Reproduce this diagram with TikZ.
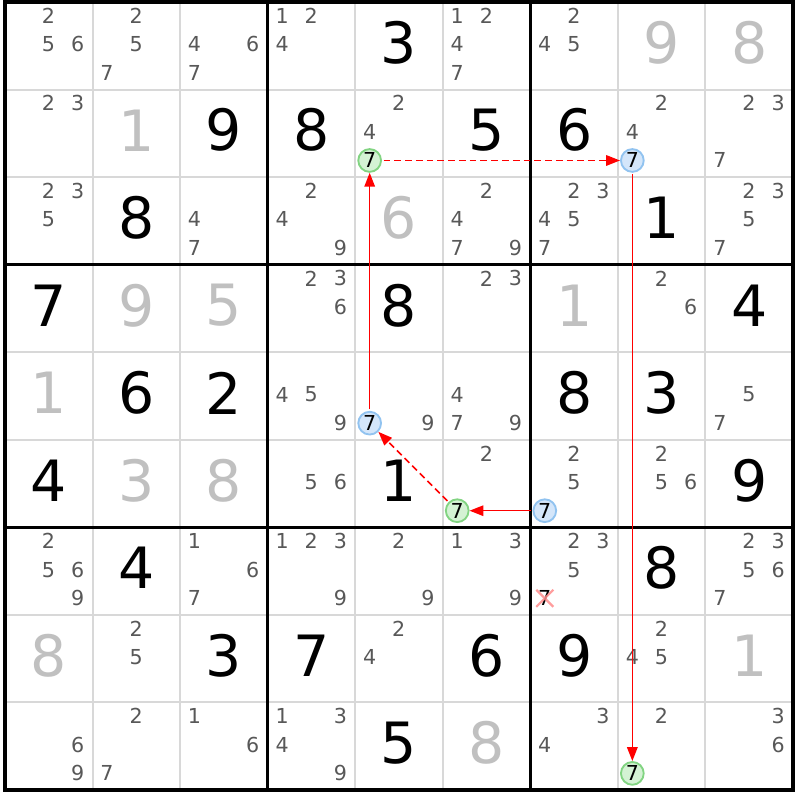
\documentclass[tikz,border=0pt]{standalone}
\usepackage{fontspec}
\setmainfont{DejaVu Sans}
\usetikzlibrary{arrows.meta,shapes.misc}
\definecolor{candgray}{RGB}{88,88,88}
\definecolor{solvedgray}{RGB}{192,192,192}
\definecolor{thingray}{RGB}{216,216,216}
\definecolor{onfill}{RGB}{212,242,212}
\definecolor{ondraw}{RGB}{130,212,130}
\definecolor{offfill}{RGB}{212,230,250}
\definecolor{offdraw}{RGB}{145,195,240}
\tikzstyle{given}=[inner sep=0,font=\fontsize{18.5}{20}\selectfont,text=black]
\tikzstyle{solved}=[given,text=solvedgray]
\tikzstyle{cand}=[inner sep=0,font=\fontsize{6.7}{8}\selectfont,text=candgray]
\tikzstyle{oncand}=[cand,text=black,shape=circle,minimum size=2.6mm,draw=ondraw,fill=onfill,line width=0.6pt]
\tikzstyle{offcand}=[oncand,draw=offdraw,fill=offfill]
\tikzstyle{elim}=[shape=cross out,draw=red!45,line width=0.7pt,minimum size=1.7mm,inner sep=0,opacity=0.85]
\tikzstyle{link}=[red,line width=0.5pt,-{Triangle[length=4.5pt,width=3.4pt]},shorten <=0.5pt]
\tikzstyle{weak}=[link,dash pattern=on 2.2pt off 1.3pt]

\begin{document}
\begin{tikzpicture}
\useasboundingbox (-0.057,-0.114) rectangle (9.057,9.023);
\fill[white] (-0.057,-0.114) rectangle (9.057,9.023);
\draw[thingray,line width=0.65pt] (0,0) grid (9,9);
\draw[line width=1pt,step=3] (0,0) grid (9,9);
\draw[line width=1.2pt] (0,0) rectangle (9,9);

\foreach \r/\c/\d in {1/5/3,2/3/9,2/4/8,2/6/5,2/7/6,3/2/8,3/8/1,4/1/7,4/5/8,4/9/4,
	5/2/6,5/3/2,5/7/8,5/8/3,6/1/4,6/5/1,6/9/9,7/2/4,7/8/8,8/3/3,8/4/7,8/6/6,8/7/9,9/5/5}{
	\node[given] (g\r\c) at (\c-0.5,9.535-\r) {\d};}
\foreach \r/\c/\d in {1/8/9,1/9/8,2/2/1,3/5/6,4/2/9,4/3/5,4/7/1,5/1/1,6/2/3,6/3/8,8/1/8,8/9/1,9/6/8}{
	\node[solved] (g\r\c) at (\c-0.5,9.535-\r) {\d};}

\foreach \r/\c/\ds in {1/1/{2,5,6},1/2/{2,5,7},1/3/{4,6,7},1/4/{1,2,4},1/6/{1,2,4,7},1/7/{2,4,5},
	2/1/{2,3},2/5/{2,4},2/8/{2,4},2/9/{2,3,7},
	3/1/{2,3,5},3/3/{4,7},3/4/{2,4,9},3/6/{2,4,7,9},3/7/{2,3,4,5,7},3/9/{2,3,5,7},
	4/4/{2,3,6},4/6/{2,3},4/8/{2,6},
	5/4/{4,5,9},5/5/{9},5/6/{4,7,9},5/9/{5,7},
	6/4/{5,6},6/6/{2},6/7/{2,5},6/8/{2,5,6},
	7/1/{2,5,6,9},7/3/{1,6,7},7/4/{1,2,3,9},7/5/{2,9},7/6/{1,3,9},7/7/{2,3,5},7/9/{2,3,5,6,7},
	8/2/{2,5},8/5/{2,4},8/8/{2,4,5},
	9/1/{6,9},9/2/{2,7},9/3/{1,6},9/4/{1,3,4,9},9/7/{3,4},9/8/{2},9/9/{3,6}}{
	\foreach \d in \ds{
		\pgfmathsetmacro\cx{\c-1+0.165+0.3325*mod(\d-1,3)}
		\pgfmathsetmacro\cy{10-\r-0.157-0.3265*floor((\d-1)/3)}
		\node[cand] (c\r\c\d) at (\cx,\cy) {\d};
	}}

\node[cand,text=black] (c777) at (6.165,2.19) {7};
\node[elim] (x777) at (c777) {};

\node[oncand] (r2c5) at (4.165,7.19) {7};
\node[offcand] (r2c8) at (7.165,7.19) {7};
\node[oncand] (r9c8) at (7.165,0.19) {7};
\node[offcand] (r5c5) at (4.165,4.19) {7};
\node[oncand] (r6c6) at (5.165,3.19) {7};
\node[offcand] (r6c7) at (6.165,3.19) {7};

\draw[weak] (r2c5) -- (r2c8);
\draw[link] (r2c8) -- (r9c8);
\draw[link] (r6c7) -- (r6c6);
\draw[weak] (r6c6) -- (r5c5);
\draw[link] (r5c5) -- (r2c5);
\end{tikzpicture}
\end{document}
